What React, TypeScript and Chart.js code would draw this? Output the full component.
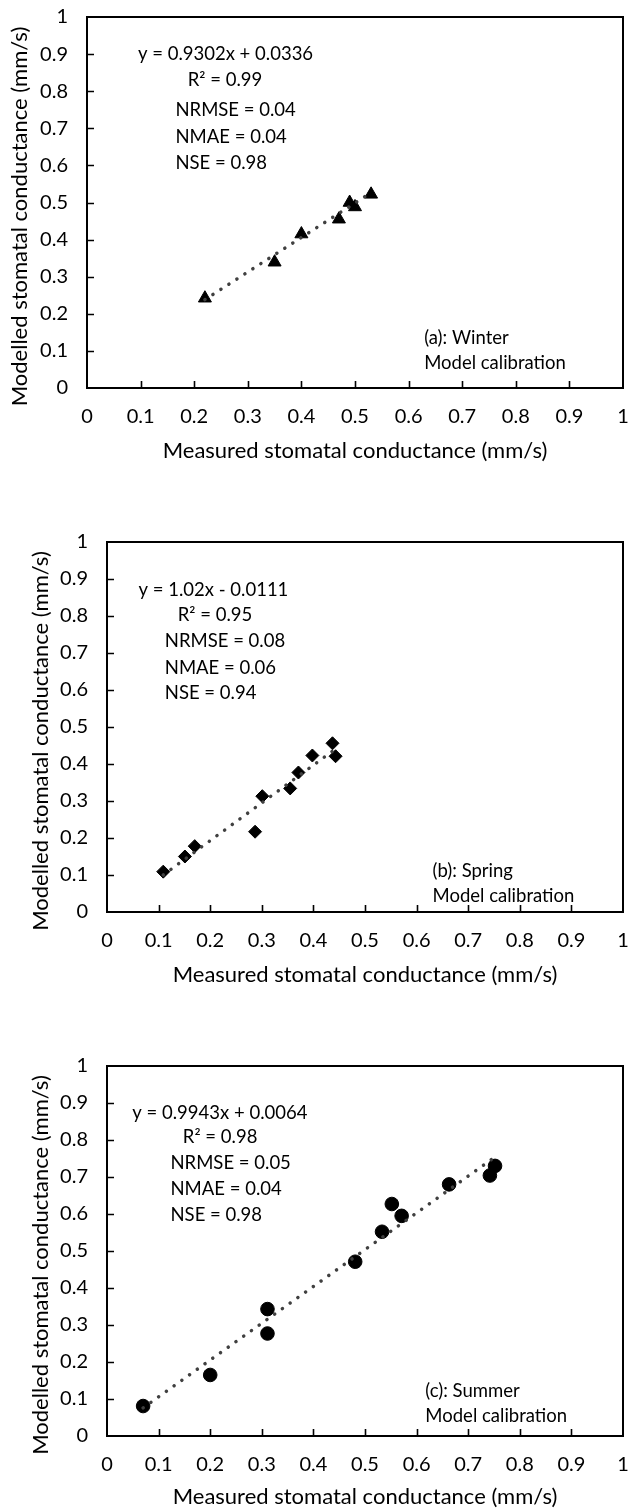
import React, { useEffect, useRef } from 'react';
import { Chart, registerables } from 'chart.js';

Chart.register(...registerables);

// ---- axis ticks ----
const tickValues = [0, 0.1, 0.2, 0.3, 0.4, 0.5, 0.6, 0.7, 0.8, 0.9, 1];
const tickLabels = ['0', '0.1', '0.2', '0.3', '0.4', '0.5', '0.6', '0.7', '0.8', '0.9', '1'];
const xTitle = 'Measured stomatal conductance (mm/s)';
const yTitle = 'Modelled stomatal conductance (mm/s)';

// ---- (a) Winter ----
const winterMeasured = [0.22, 0.35, 0.4, 0.47, 0.49, 0.5, 0.53];
const winterModelled = [0.242, 0.339, 0.415, 0.455, 0.5, 0.488, 0.522];
const winterFit = [0.9302, 0.0336];
const winterStats = ['y = 0.9302x + 0.0336', 'R² = 0.99', 'NRMSE = 0.04', 'NMAE = 0.04', 'NSE = 0.98'];
const winterLabel = ['(a): Winter', 'Model calibration'];

// ---- (b) Spring ----
const springMeasured = [0.109, 0.151, 0.17, 0.287, 0.301, 0.355, 0.371, 0.398, 0.437, 0.443];
const springModelled = [0.109, 0.15, 0.178, 0.217, 0.313, 0.334, 0.377, 0.423, 0.456, 0.421];
const springFit = [1.02, -0.0111];
const springStats = ['y = 1.02x - 0.0111', 'R² = 0.95', 'NRMSE = 0.08', 'NMAE = 0.06', 'NSE = 0.94'];
const springLabel = ['(b): Spring', 'Model calibration'];

// ---- (c) Summer ----
const summerMeasured = [0.07, 0.2, 0.311, 0.311, 0.481, 0.533, 0.552, 0.571, 0.663, 0.742, 0.752];
const summerModelled = [0.081, 0.165, 0.343, 0.277, 0.471, 0.552, 0.627, 0.595, 0.68, 0.704, 0.73];
const summerFit = [0.9943, 0.0064];
const summerStats = ['y = 0.9943x + 0.0064', 'R² = 0.98', 'NRMSE = 0.05', 'NMAE = 0.04', 'NSE = 0.98'];
const summerLabel = ['(c): Summer', 'Model calibration'];

const W = 630;
const FONT = 'Lato';
const TITLE_SIZE = 22;
const TICK_SIZE = 20;
const NOTE_SIZE = 18.5;
const TEXT_COLOR = '#000';

type Area = { left: number; top: number; right: number; bottom: number };
type Spot = { x: number; y: number };

interface PanelProps {
  top: number;
  height: number;
  area: Area;
  xs: number[];
  ys: number[];
  fit: number[];
  marker: string;
  radius: number;
  stats: string[];
  statSpots: Spot[];
  label: string[];
  labelSpots: Spot[];
  yTitleX: number;
}

const zeroPadding = (s: any) => {
  s.paddingTop = 0;
  s.paddingBottom = 0;
  s.paddingLeft = 0;
  s.paddingRight = 0;
};

function Panel(p: PanelProps) {
  const ref = useRef<HTMLCanvasElement | null>(null);
  useEffect(() => {
    const canvas = ref.current;
    if (!canvas) return;
    const points = p.xs.map((x, i) => ({ x, y: p.ys[i] }));
    const x0 = Math.min(...p.xs);
    const x1 = Math.max(...p.xs);
    const line = [
      { x: x0, y: p.fit[0] * x0 + p.fit[1] },
      { x: x1, y: p.fit[0] * x1 + p.fit[1] },
    ];
    const lh = TITLE_SIZE * 1.2;
    const xTitlePad = Math.max(0, p.height - p.area.bottom - 62.5 - lh / 2);

    const decor = {
      id: 'decor',
      afterDraw(chart: any) {
        const { ctx, chartArea, scales } = chart;
        const sx = scales.x;
        const sy = scales.y;
        ctx.save();
        // inward ticks
        ctx.strokeStyle = '#000';
        ctx.lineWidth = 1.6;
        ctx.beginPath();
        tickValues.forEach((v) => {
          if (v <= 0 || v >= 1) return;
          const px = Math.round(sx.getPixelForValue(v)) + 0.5;
          ctx.moveTo(px, chartArea.bottom);
          ctx.lineTo(px, chartArea.bottom - 7);
          const py = Math.round(sy.getPixelForValue(v)) + 0.5;
          ctx.moveTo(chartArea.left, py);
          ctx.lineTo(chartArea.left + 7, py);
        });
        ctx.stroke();
        // frame
        ctx.lineWidth = 2;
        ctx.strokeRect(chartArea.left, chartArea.top, chartArea.right - chartArea.left, chartArea.bottom - chartArea.top);
        // annotations
        ctx.fillStyle = TEXT_COLOR;
        ctx.font = `${NOTE_SIZE}px ${FONT}`;
        ctx.textAlign = 'left';
        ctx.textBaseline = 'middle';
        p.stats.forEach((t, i) => {
          const s = p.statSpots[i];
          ctx.fillText(t, sx.getPixelForValue(s.x), sy.getPixelForValue(s.y));
        });
        p.label.forEach((t, i) => {
          const s = p.labelSpots[i];
          ctx.fillText(t, sx.getPixelForValue(s.x), sy.getPixelForValue(s.y));
        });
        // y-axis title
        ctx.font = `${TITLE_SIZE}px ${FONT}`;
        ctx.textAlign = 'center';
        ctx.translate(p.yTitleX, (chartArea.top + chartArea.bottom) / 2 + 14);
        ctx.rotate(-Math.PI / 2);
        ctx.fillText(yTitle, 0, 0);
        ctx.restore();
      },
    };

    const chart = new Chart(canvas, {
      type: 'scatter',
      data: {
        datasets: [
          {
            type: 'line',
            data: line,
            borderColor: '#404040',
            borderWidth: 3.5,
            borderDash: [0.1, 9.4],
            borderCapStyle: 'round',
            pointRadius: 0,
            fill: false,
            order: 0,
          } as any,
          {
            data: points,
            pointStyle: p.marker as any,
            pointRadius: p.radius,
            backgroundColor: '#000',
            borderColor: '#000',
            borderWidth: 1,
            order: 1,
          },
        ],
      },
      options: {
        responsive: false,
        animation: false,
        devicePixelRatio: 1,
        layout: { autoPadding: false, padding: { left: 0, top: p.area.top, right: W - p.area.right, bottom: 0 } },
        plugins: { legend: { display: false }, tooltip: { enabled: false } },
        scales: {
          x: {
            type: 'linear',
            min: 0,
            max: 1,
            grid: { display: false, drawTicks: false },
            border: { display: false },
            afterBuildTicks: (s: any) => {
              s.ticks = tickValues.map((v) => ({ value: v }));
            },
            afterFit: (s: any) => {
              s.height = p.height - p.area.bottom;
              zeroPadding(s);
            },
            ticks: {
              autoSkip: false,
              maxRotation: 0,
              padding: 16.5,
              color: TEXT_COLOR,
              font: { family: FONT, size: TICK_SIZE },
              callback: (_v: any, i: number) => tickLabels[i],
            },
            title: {
              display: true,
              text: xTitle,
              color: TEXT_COLOR,
              font: { family: FONT, size: TITLE_SIZE },
              padding: { top: 0, bottom: xTitlePad },
            },
          },
          y: {
            type: 'linear',
            min: 0,
            max: 1,
            grid: { display: false, drawTicks: false },
            border: { display: false },
            afterBuildTicks: (s: any) => {
              s.ticks = tickValues.map((v) => ({ value: v }));
            },
            afterFit: (s: any) => {
              s.width = p.area.left;
              zeroPadding(s);
            },
            ticks: {
              autoSkip: false,
              padding: 19,
              color: TEXT_COLOR,
              font: { family: FONT, size: TICK_SIZE },
              callback: (_v: any, i: number) => tickLabels[i],
            },
          },
        },
      },
      plugins: [decor],
    });
    return () => chart.destroy();
  }, []);
  return (
    <canvas
      ref={ref}
      width={W}
      height={p.height}
      style={{ position: 'absolute', left: 0, top: p.top, width: W, height: p.height }}
    />
  );
}

export default function App() {
  return (
    <div style={{ position: 'absolute', left: 0, top: 0, width: W, height: 1510, background: '#fff' }}>
      <Panel
        top={0}
        height={470}
        area={{ left: 87, top: 17, right: 623, bottom: 388 }}
        xs={winterMeasured}
        ys={winterModelled}
        fit={winterFit}
        marker="triangle"
        radius={7.5}
        stats={winterStats}
        statSpots={[
          { x: 0.095, y: 0.9 },
          { x: 0.188, y: 0.83 },
          { x: 0.165, y: 0.749 },
          { x: 0.165, y: 0.677 },
          { x: 0.165, y: 0.606 },
        ]}
        label={winterLabel}
        labelSpots={[
          { x: 0.629, y: 0.135 },
          { x: 0.629, y: 0.067 },
        ]}
        yTitleX={20}
      />
      <Panel
        top={500}
        height={490}
        area={{ left: 107, top: 42, right: 623, bottom: 412 }}
        xs={springMeasured}
        ys={springModelled}
        fit={springFit}
        marker="rectRot"
        radius={6.5}
        stats={springStats}
        statSpots={[
          { x: 0.061, y: 0.87 },
          { x: 0.137, y: 0.803 },
          { x: 0.112, y: 0.731 },
          { x: 0.112, y: 0.66 },
          { x: 0.112, y: 0.591 },
        ]}
        label={springLabel}
        labelSpots={[
          { x: 0.631, y: 0.112 },
          { x: 0.631, y: 0.043 },
        ]}
        yTitleX={41}
      />
      <Panel
        top={1000}
        height={510}
        area={{ left: 107, top: 66, right: 623, bottom: 436 }}
        xs={summerMeasured}
        ys={summerModelled}
        fit={summerFit}
        marker="circle"
        radius={6.8}
        stats={summerStats}
        statSpots={[
          { x: 0.049, y: 0.874 },
          { x: 0.147, y: 0.807 },
          { x: 0.123, y: 0.737 },
          { x: 0.123, y: 0.667 },
          { x: 0.123, y: 0.597 },
        ]}
        label={summerLabel}
        labelSpots={[
          { x: 0.617, y: 0.122 },
          { x: 0.617, y: 0.054 },
        ]}
        yTitleX={41}
      />
    </div>
  );
}
